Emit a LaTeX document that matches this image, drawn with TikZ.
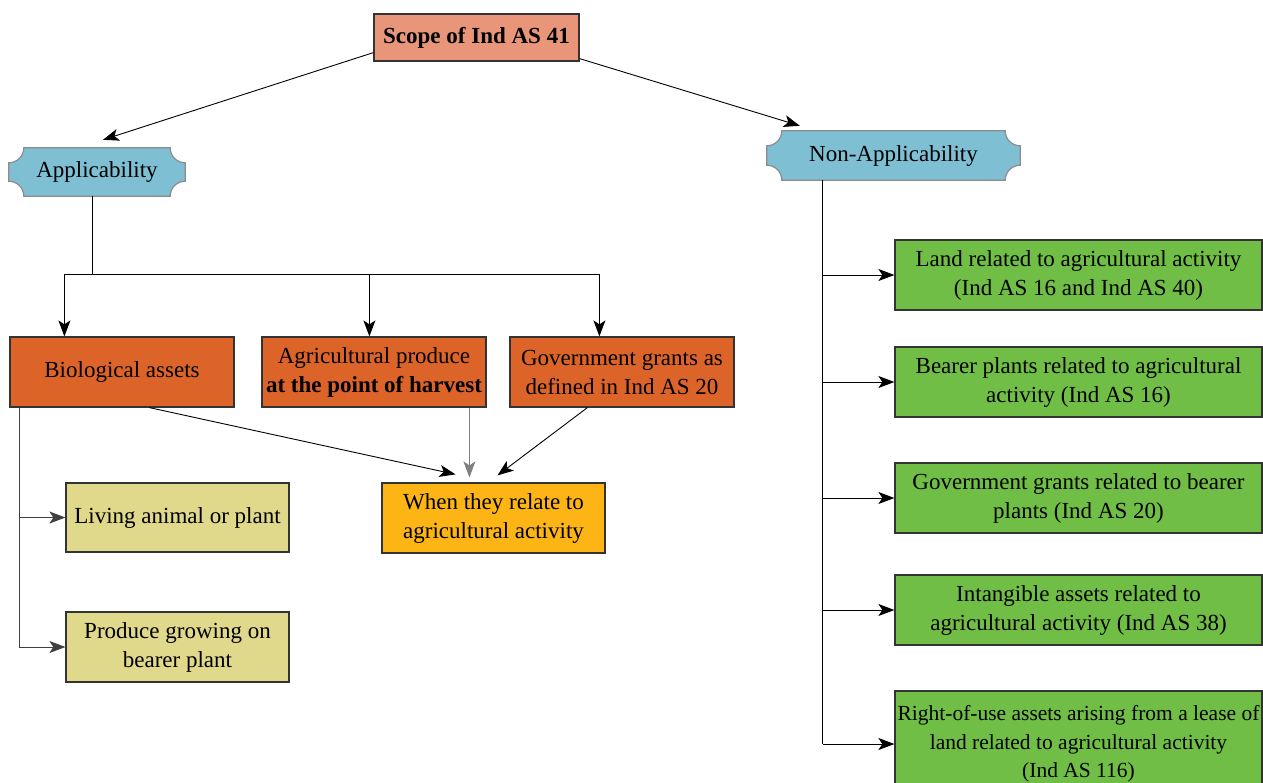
\documentclass[tikz,border=0pt]{standalone}
\usepackage{fontspec}
\setmainfont{Liberation Serif}
\usetikzlibrary{arrows.meta,calc,backgrounds}
\definecolor{cscope}{HTML}{E8957A}
\definecolor{cblue}{HTML}{7EBFD3}
\definecolor{corange}{HTML}{DD6429}
\definecolor{cyellow}{HTML}{FCB514}
\definecolor{ckhaki}{HTML}{E0D88B}
\definecolor{cgreen}{HTML}{70BE45}
\newcommand\plaquepath[2]{%
  \path[plaquestyle] ($(#1.north west)+(#2,0)$) -- ($(#1.north east)+(-#2,0)$)
    arc[start angle=180,end angle=270,radius=#2] -- ($(#1.south east)+(0,#2)$)
    arc[start angle=90,end angle=180,radius=#2] -- ($(#1.south west)+(#2,0)$)
    arc[start angle=0,end angle=90,radius=#2] -- ($(#1.north west)+(0,-#2)$)
    arc[start angle=270,end angle=360,radius=#2] -- cycle;}
\begin{document}
\begin{tikzpicture}[x=1pt,y=1pt,
  every node/.style={font=\fontsize{23}{29}\selectfont, inner sep=0pt, align=center},
  box/.style={draw=black!80, line width=1.2pt, minimum width=#1, minimum height=70pt},
  box/.default=224pt,
  plaquestyle/.style={fill=cblue, draw=black!45, line width=1.2pt},
  conn/.style={line width=0.9pt, draw=black},
  arr/.style={conn, -{Stealth[length=16pt,width=12pt,inset=4pt]}}]
\useasboundingbox (0,0) rectangle (1263,-782);
\clip (0,0) rectangle (1263,-782);

% top
\node[box=205pt, minimum height=47pt, fill=cscope] (scope) at (476.5,-37.5) {\textbf{Scope of Ind AS 41}};
\node[minimum width=176pt, minimum height=48pt] (app) at (97,-172) {\raisebox{-5pt}{Applicability}};
\node[minimum width=253pt, minimum height=49pt] (nonapp) at (893.5,-155.5) {\raisebox{-3pt}{Non-Applicability}};
\begin{scope}[on background layer]
\plaquepath{app}{15pt}
\plaquepath{nonapp}{15pt}
\end{scope}

% applicability branch
\node[box, fill=corange] (bio) at (122,-372) {Biological assets};
\node[box, fill=corange] (agri) at (374,-372) {Agricultural produce\\\textbf{at the point of harvest}};
\node[box, fill=corange] (gov) at (622,-372) {Government grants as\\defined in Ind AS 20};
\node[box=223pt, fill=cyellow] (when) at (493.5,-518) {When they relate to\\agricultural activity};
\node[box=223pt, minimum height=69pt, fill=ckhaki] (living) at (177.5,-517.5) {Living animal or plant};
\node[box=223pt, fill=ckhaki] (produce) at (177.5,-647) {Produce growing on\\bearer plant};

% non-applicability branch
\node[box=367pt, fill=cgreen] (g1) at (1078.5,-275) {Land related to agricultural activity\\(Ind AS 16 and Ind AS 40)};
\node[box=367pt, fill=cgreen] (g2) at (1078.5,-382) {Bearer plants related to agricultural\\activity (Ind AS 16)};
\node[box=367pt, fill=cgreen] (g3) at (1078.5,-498) {Government grants related to bearer\\plants (Ind AS 20)};
\node[box=367pt, fill=cgreen] (g4) at (1078.5,-610) {Intangible assets related to\\agricultural activity (Ind AS 38)};
\node[box=367pt, minimum height=106pt, fill=cgreen,
      font=\fontsize{21.5}{28.5}\selectfont] (g5) at (1078.5,-744) {Right-of-use assets arising from a lease of\\land related to agricultural activity\\(Ind AS 116)};

% connectors from scope
\draw[arr] ($(scope.south west)+(0,9)$) -- ($(app.north)+(6,8)$);
\draw[arr] ($(scope.south east)+(0,3)$) -- ($(nonapp.north west)+(33,5)$);

% applicability tree
\coordinate (j0) at ($(app.south)+(-5,-78)$);
\coordinate (jl) at ($(j0 -| bio.south west)+(55,0)$);
\coordinate (jm) at ($(j0 -| agri.south west)+(108,0)$);
\coordinate (jr) at ($(j0 -| gov.south west)+(90,0)$);
\draw[conn] ($(app.south)+(-5,0)$) -- (j0);
\draw[conn] (jl) -- (jr);
\draw[arr] (jl) -- (jl |- bio.north);
\draw[arr] (jm) -- (jm |- agri.north);
\draw[arr] (jr) -- (jr |- gov.north);

% to "when"
\coordinate (ag) at ($(agri.south west)+(208,0)$);
\coordinate (agw) at ($(ag |- when.north)+(0,5)$);
\draw[arr] ($(bio.south west)+(140,0)$) -- ($(when.north)+(-38,8)$);
\draw[arr, draw=black!50] (ag) -- (agw);
\draw[arr] ($(gov.south west)+(78,0)$) -- ($(when.north)+(4,7)$);

% biological sub-branch
\coordinate (bt) at ($(bio.south west)+(10,0)$);
\coordinate (bb) at (bt |- produce.west);
\draw[conn, draw=black!75] (bt) -- (bb);
\draw[arr, draw=black!75] (bt |- living.west) -- (living.west);
\draw[arr, draw=black!75] (bb) -- (produce.west);

% non-applicability tree
\coordinate (nt) at ($(nonapp.south west)+(56,0)$);
\coordinate (nb) at (nt |- g5.west);
\draw[conn] (nt) -- (nb);
\draw[arr] (nt |- g1.west) -- (g1.west);
\draw[arr] (nt |- g2.west) -- (g2.west);
\draw[arr] (nt |- g3.west) -- (g3.west);
\draw[arr] (nt |- g4.west) -- (g4.west);
\draw[arr] (nb) -- (g5.west);
\end{tikzpicture}
\end{document}
